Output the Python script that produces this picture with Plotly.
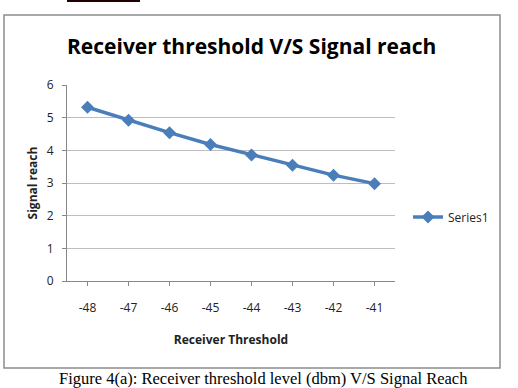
import plotly.graph_objects as go

categories = ["-48", "-47", "-46", "-45", "-44", "-43", "-42", "-41"]
signal_reach = [5.32, 4.92, 4.54, 4.18, 3.86, 3.54, 3.24, 2.98]
series_name = "Series1"
y_ticks = [0, 1, 2, 3, 4, 5, 6]

W, H = 518, 388
L, R, T, B = 67, 123, 85, 107
PW, PH = W - L - R, H - T - B

def px_x(p):
    return (p - L) / PW
def px_y(p):
    return (H - B - p) / PH

fig = go.Figure()
fig.add_trace(go.Scatter(
    x=categories, y=signal_reach, name=series_name, mode="lines+markers",
    line=dict(color="#4A7EBB", width=3.5),
    marker=dict(symbol="diamond", size=10, color="#4A7EBB"),
))

fig.update_layout(
    width=W, height=H,
    margin=dict(l=L, r=R, t=T, b=B, pad=0),
    paper_bgcolor="white", plot_bgcolor="white",
    showlegend=True,
    legend=dict(x=px_x(408), y=px_y(217), xref="paper", yref="paper",
                xanchor="left", yanchor="middle",
                font=dict(family="Open Sans", size=12, color="#222"),
                bgcolor="rgba(0,0,0,0)", itemwidth=30),
    xaxis=dict(type="category", range=[-0.5, 7.5], showgrid=False,
               showline=True, linecolor="#888", linewidth=1,
               ticks="outside", ticklen=4, tickcolor="#888",
               tickfont=dict(family="Open Sans", size=12, color="#222"),
               ticklabelstandoff=12,
               title=dict(text="<b>Receiver Threshold</b>",
                          font=dict(family="Open Sans", size=12, color="#222"),
                          standoff=20)),
    yaxis=dict(range=[0, 6], tickvals=y_ticks, showgrid=True, gridcolor="#BEBEBE",
               showline=True, linecolor="#888", linewidth=1,
               ticks="outside", ticklen=4, tickcolor="#888",
               tickfont=dict(family="Open Sans", size=12, color="#222"),
               ticklabelstandoff=6,
               zeroline=False,
               title=dict(text="<b>Signal reach</b>",
                          font=dict(family="Open Sans", size=12, color="#222"),
                          standoff=6)),
    shapes=[
        dict(type="rect", xref="paper", yref="paper",
             x0=px_x(4), x1=px_x(500), y0=px_y(368), y1=px_y(15),
             line=dict(color="#8C8C8C", width=1.5), layer="below"),
        dict(type="line", xref="paper", yref="paper",
             x0=px_x(67), x1=px_x(140), y0=px_y(1), y1=px_y(1),
             line=dict(color="#200000", width=2)),
    ],
    annotations=[
        dict(text="<b>Receiver threshold V/S Signal reach</b>", xref="paper", yref="paper",
             x=px_x(251), y=px_y(46), xanchor="center", yanchor="middle", showarrow=False,
             font=dict(family="Open Sans", size=21, color="black")),
        dict(text="Figure 4(a): Receiver threshold level (dbm) V/S Signal Reach",
             xref="paper", yref="paper", x=px_x(263), y=px_y(378.5),
             xanchor="center", yanchor="middle", showarrow=False, borderpad=0,
             font=dict(family="Liberation Serif", size=16.5, color="black")),
    ],
)

fig.write_html("out.html", config={"displayModeBar": False},
               post_script="document.body.style.margin='0';document.body.style.overflow='hidden';")
